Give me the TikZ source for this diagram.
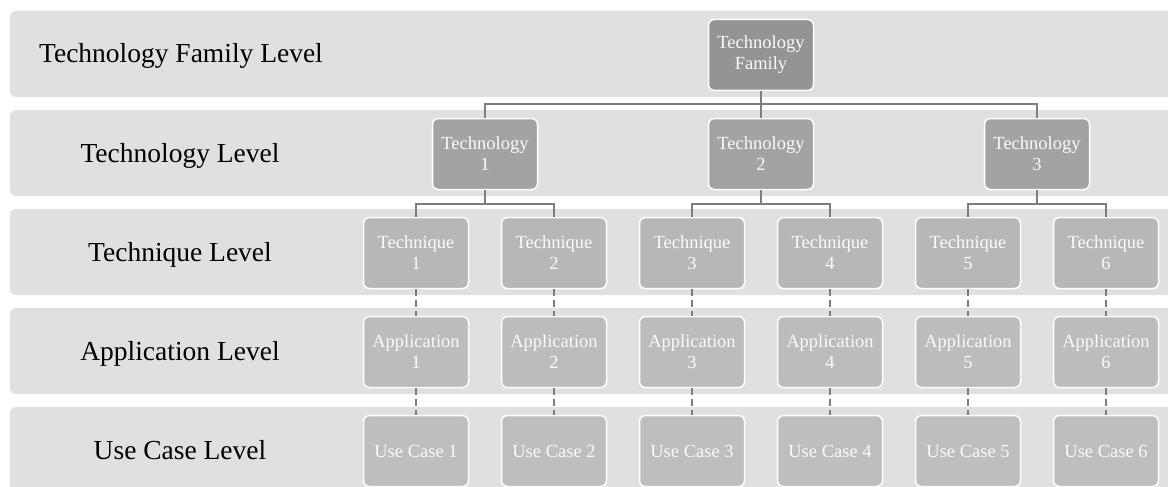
\documentclass[tikz,border=0pt]{standalone}
\usepackage{fontspec}
\setmainfont{Liberation Serif}
\definecolor{bandgray}{RGB}{224,224,224}
\definecolor{famgray}{RGB}{148,148,148}
\definecolor{techgray}{RGB}{163,163,163}
\definecolor{tqgray}{RGB}{183,183,183}
\definecolor{appgray}{RGB}{188,188,188}
\definecolor{ucgray}{RGB}{190,190,190}
\definecolor{linkgray}{RGB}{125,125,125}
\tikzset{
  treebox/.style={rounded corners=6pt, draw=white, line width=1.5pt, minimum width=105, minimum height=71,
    text=white!96!gray, align=center, inner sep=2pt, font=\fontsize{18.5}{21}\selectfont},
  lvltext/.style={anchor=base, font=\fontsize{27.5}{30}\selectfont, text=black},
  treelink/.style={draw=linkgray, line width=2.2pt},
  dashlink/.style={draw=linkgray, line width=1.6pt, dash pattern={on 7pt off 4pt}}
}
\begin{document}
\begin{tikzpicture}[x=1pt,y=1pt,yscale=-1,xscale=1]
        \useasboundingbox (0,0) rectangle (1168,487);
        \clip (0,0) rectangle (1168,487);

        %Level bands
        \foreach \y in {11,110,209,308,407} {
          \fill [bandgray, rounded corners=6pt] (10,\y) rectangle (1180,\y+86);
        }

        %Level labels
        \node [lvltext] (lvlfam) at (181,63) {Technology Family Level};
        \node [lvltext] (lvltech) at (180,162) {Technology Level};
        \node [lvltext] (lvltq) at (180,261) {Technique Level};
        \node [lvltext] (lvlapp) at (180,360) {Application Level};
        \node [lvltext] (lvluc) at (180,459) {Use Case Level};

        %Family and technology boxes
        \node [treebox, fill=famgray] (fam) at (761,55) {Technology\\Family};
        \foreach \j in {1,2,3} {
          \pgfmathsetmacro\xx{485+276*(\j-1)}
          \node [treebox, fill=techgray] (tech\j) at (\xx,154) {Technology\\\j};
        }

        %Technique, application and use case boxes
        \foreach \i in {1,...,6} {
          \pgfmathsetmacro\xx{416+138*(\i-1)}
          \node [treebox, fill=tqgray] (tq\i) at (\xx,253) {Technique\\\i};
          \node [treebox, fill=appgray] (app\i) at (\xx,352) {Application\\\i};
          \node [treebox, fill=ucgray] (uc\i) at (\xx,451) {Use Case \i};
          \draw [dashlink] (tq\i) -- (app\i);
          \draw [dashlink] (app\i) -- (uc\i);
        }

        %Tree lines
        \draw [treelink] (fam) -- (tech2);
        \draw [treelink] (tech1.north) -- ++(0,-14) -| (tech3.north);
        \foreach \j/\a/\b in {1/1/2,2/3/4,3/5/6} {
          \draw [treelink] (tech\j.south) -- ++(0,14) coordinate (bus\j);
          \draw [treelink] (tq\a.north) |- (bus\j) -| (tq\b.north);
        }
\end{tikzpicture}
\end{document}
